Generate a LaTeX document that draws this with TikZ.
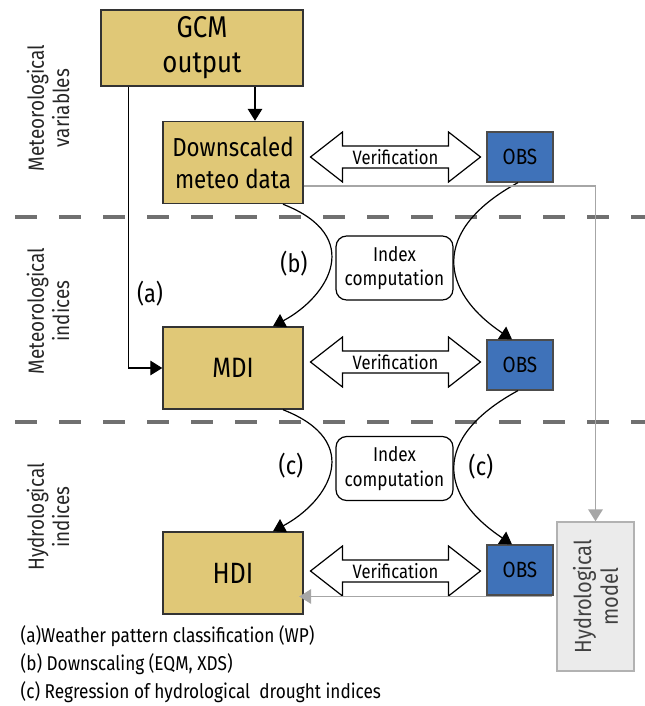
\documentclass[tikz,border=0pt]{standalone}
\usepackage{fontspec}
\setmainfont{Fira Sans}[FakeStretch=0.86]
\usepackage{xcolor}
\usetikzlibrary{positioning}
\usetikzlibrary{arrows.meta}
\usetikzlibrary{shapes.arrows}
\definecolor{sand}{HTML}{E0C877}
\definecolor{obsblue}{HTML}{3F72B9}
\definecolor{modelgray}{HTML}{EBEBEB}
\definecolor{sepgray}{HTML}{707070}
\tikzset{databox/.style={draw=black!80, fill=sand, line width=1.1pt,
minimum width=105pt, minimum height=61.5pt, align=center, font=\fontsize{19.5}{24}\selectfont},
obsbox/.style={draw=black!70, fill=obsblue, line width=0.9pt,
minimum width=49.5pt, minimum height=37.5pt, font=\fontsize{16.5}{19}\selectfont},
idxbox/.style={draw, rounded corners=8pt, line width=0.9pt, fill=white,
minimum width=87.75pt, minimum height=48pt, align=center, font=\fontsize{15}{18.5}\selectfont},
verif/.style={double arrow, draw, fill=white, line width=0.9pt,
minimum height=127.5pt, minimum width=37.5pt, double arrow head extend=9.4pt,
double arrow tip angle=76, inner sep=1.2pt, font=\fontsize{14.5}{16}\selectfont}}

\begin{document}
\begin{tikzpicture}[x=0.75pt, y=-0.75pt,
	bandlabel/.style={rotate=90, align=center, text=black!85, font=\fontsize{16.5}{19}\selectfont},
	caselabel/.style={font=\fontsize{19}{22}\selectfont},
	flow/.style={line width=0.9pt, -{Triangle[length=9pt, width=11pt]}},
	grayline/.style={draw=black!35, line width=1.1pt, -{Triangle[length=9pt, width=11pt]}},
	sep/.style={sepgray, line width=3pt, dash pattern=on 16.5pt off 16.5pt}]
	\useasboundingbox (0,0) rectangle (645,706);

	% band separators
	\draw[sep] (15,217) -- (645,217);
	\draw[sep] (15,422) -- (645,422);

	\node[bandlabel] (lvar) at (48,108) {Meteorological\\variables};
	\node[bandlabel] (lmind) at (48,311) {Meteorological\\indices};
	\node[bandlabel] (lhind) at (48,517) {Hydrological\\indices};

	% model chain
	\node[databox, minimum width=151.5pt, minimum height=57pt, font=\fontsize{22.5}{26}\selectfont] (gcm) at (202,48) {GCM\\output};
	\node[databox] (dsc) at (233,162.5) {Downscaled\\meteo data};
	\node[databox, font=\fontsize{21}{24}\selectfont] (mdi) at (233,368) {MDI};
	\node[databox, font=\fontsize{22}{24}\selectfont] (hdi) at (233,573) {HDI};

	\node[obsbox] (obs1) at (520,157) {OBS};
	\node[obsbox] (obs2) at (520,365) {OBS};
	\node[obsbox] (obs3) at (520,570) {OBS};

	\node[idxbox] (idx1) at (394.5,268) {Index\\computation};
	\node[idxbox] (idx2) at (394.5,468.5) {Index\\computation};

	\node[draw=black!30, fill=modelgray, line width=1.1pt, minimum width=111.75pt,
		minimum height=57.75pt, rotate=90, align=center, text=black!75,
		font=\fontsize{17.5}{20}\selectfont] (model) at (595.5,596.5) {Hydrological\\model};

	\node[verif] (ver1) at (395.5,157) {Verification};
	\node[verif] (ver2) at (395.5,362) {Verification};
	\node[verif] (ver3) at (395.5,571) {Verification};

	% connectors
	\draw[flow] ([xshift=16.5pt]dsc.north |- gcm.south) -- ([xshift=16.5pt]dsc.north);
	\draw[flow] ([xshift=21pt]gcm.south west) |- (mdi.west);
	\draw[flow] ([xshift=37.5pt]dsc.south) .. controls +(82,32) and +(56,-30) .. ([xshift=30pt]mdi.north);
	\draw[flow] ([xshift=-1.5pt]obs1.south) .. controls +(-88,48) and +(-72,-48) .. ([xshift=-6pt]obs2.north);
	\draw[flow] ([xshift=37.5pt]mdi.south) .. controls +(82,32) and +(56,-30) .. ([xshift=30pt]hdi.north);
	\draw[flow] ([xshift=-1.5pt]obs2.south) .. controls +(-88,48) and +(-72,-48) .. ([xshift=-6pt]obs3.north);

	\draw[grayline] ([yshift=-17.6pt]dsc.east) -| (model.east);
	\draw[grayline] ([xshift=-3.4pt]model.north) -- ([xshift=-3.4pt]model.north -| hdi.east);

	\node[caselabel] (la) at (150,294) {(a)};
	\node[caselabel] (lb) at (294,264) {(b)};
	\node[caselabel] (lc1) at (291,466) {(c)};
	\node[caselabel] (lc2) at (481,467) {(c)};

	\node[anchor=west, align=left, font=\fontsize{15}{21}\selectfont] (legend) at (16,664)
		{(a)Weather pattern classification (WP)\\(b) Downscaling (EQM, XDS)\\(c) Regression of hydrological\ \ drought indices};
\end{tikzpicture}
\end{document}
